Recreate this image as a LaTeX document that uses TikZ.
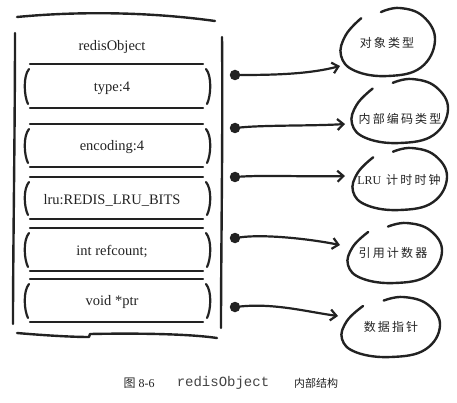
\documentclass[tikz,border=0pt]{standalone}
\usepackage{fontspec}
\usepackage{tikz}
\usetikzlibrary{arrows.meta}
\setmainfont{Liberation Serif}
\newfontfamily\cjk[LetterSpace=18]{Noto Sans CJK SC}
\newfontfamily\cjkcap{Noto Sans CJK SC}
\newfontfamily\codefont{Liberation Mono}
\definecolor{ink}{HTML}{222222}

% little hand-drawn loop round a label: centre x, centre y, rx, ry
\newcommand\blobloop[4]{%
  \draw[hand,shift={(#1pt,-#2pt)},x=#3pt,y=-#4pt] plot[smooth,tension=0.7]
    coordinates {(-0.15,-0.88) (0.25,-1) (0.75,-0.75) (1,-0.05) (0.7,0.75)
                 (0,1) (-0.7,0.85) (-1,0.4) (-0.9,-0.2) (-0.57,-0.7)};}

\tikzset{
  hand/.style={ink,line width=2.4pt,line cap=round,line join=round},
  rim/.style={ink,line width=2.2pt,line cap=round},
  field/.style={font=\fontsize{14.5}{16}\selectfont,text=ink,inner sep=1pt},
  tag/.style={font=\cjk\fontsize{12}{14}\selectfont,text=ink,inner sep=1pt},
  dot/.style={circle,fill=ink,inner sep=0pt,minimum size=10.5pt},
  ptr/.style={hand,line width=2.2pt,-{Straight Barb[length=6pt,width=11pt]}},
}

\begin{document}
\begin{tikzpicture}[x=1pt,y=-1pt]
  \useasboundingbox (0,0) rectangle (457,403);
  % outer frame
  \draw[hand] (17,17) .. controls (80,11) and (150,12) .. (215,21);
  \draw[hand] (15,33) .. controls (15,130) and (13,250) .. (13,324);
  \draw[hand] (222,37) .. controls (223,130) and (221,250) .. (221,328);
  \draw[hand] (17,333) .. controls (40,335) and (70,337) .. (89,337) -- (90,334)
    .. controls (140,333) and (190,334) .. (217,338);
  \node[field] (title) at (112,47) {redisObject};
  % fields
  \foreach \t/\b/\ty/\n/\txt in {64/108/88/type/type:4,
      124/167/147/enc/encoding:4,
      177/219/200/lru/lru:REDIS\_LRU\_BITS,
      228/271/252/ref/int refcount;,
      279/322/302/ptr/void *ptr} {
    \draw[rim] (30,\t) -- (203,\t);
    \draw[rim] (30,\b) -- (203,\b);
    \draw[rim] (29,\t+5) .. controls (23,\t+12) and (24,\b-12) .. (28,\b-4);
    \draw[rim] (206,\t+5) .. controls (212,\t+12) and (211,\b-12) .. (207,\b-4);
    \node[field] (f\n) at (112,\ty) {\txt};
  }
  % labels on the right
  \node[tag] (l1) at (387,43) {对象类型};
  \node[tag] (l2) at (400,119) {内部编码类型};
  \node[tag] (l3) at (399,180) {{\rmfamily LRU} 计时时钟};
  \node[tag] (l4) at (393,253) {引用计数器};
  \node[tag] (l5) at (391,327) {数据指针};
  \blobloop{388}{42}{47}{34}
  \blobloop{400}{111}{48}{32}
  \blobloop{400}{179}{47}{31}
  \blobloop{395}{253}{47}{30}
  \blobloop{391}{327}{49}{30}
  % pointers
  \foreach \i/\y in {1/75,2/128,3/177,4/238,5/307}
    \node[dot] (d\i) at (235,\y) {};
  \coordinate (e1) at (340,66);
  \coordinate (e2) at (345,124);
  \coordinate (e3) at (345,176);
  \coordinate (e4) at (340,245);
  \coordinate (e5) at (338,316);
  \draw[ptr] (d1) .. controls +(40,0) and +(-30,8) .. (e1);
  \draw[ptr] (d2) .. controls +(30,-3) and +(-30,2) .. (e2);
  \draw[ptr] (d3) .. controls +(30,-2) and +(-30,1) .. (e3);
  \draw[ptr] (d4) .. controls +(30,-4) and +(-30,-6) .. (e4);
  \draw[ptr] (d5) .. controls +(40,-4) and +(-30,-4) .. (e5);
  % caption
  \node[font=\fontsize{12}{14}\selectfont,text=ink] (cap1) at (139,383) {{\cjkcap 图} 8-6};
  \node[font=\codefont\fontsize{14}{16}\selectfont,text=ink!85] (cap2) at (223,383) {redisObject};
  \node[font=\cjkcap\fontsize{11}{13}\selectfont,text=ink] (cap3) at (316,383) {内部结构};
\end{tikzpicture}
\end{document}
